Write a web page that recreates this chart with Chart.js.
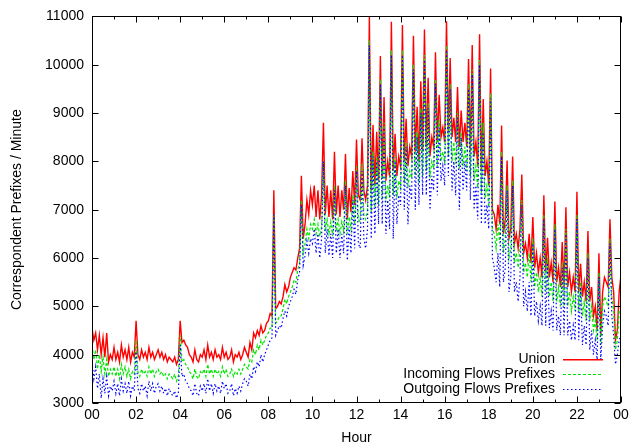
<!DOCTYPE html>
<html>
<head>
<meta charset="utf-8">
<script src="https://cdn.jsdelivr.net/npm/chart.js@4/dist/chart.umd.min.js"></script>
<style>
  html, body { margin:0; padding:0; background:#fff; }
  canvas { display:block; }
</style>
</head>
<body>
<canvas id="c" width="636" height="447"></canvas>
<script>
// one value every 5 minutes, 00:00 .. 24:00 (12 per hour + closing value)
const union = [
  4550,4300,4450,4100,4400,4000,4350,3950,4450,3850,4000,3900,
  4150,3900,4050,3850,4200,3950,4100,3900,4150,3850,4050,3950,
  4700,4000,3900,4100,3950,4050,3900,4150,3950,4050,3900,4000,
  4100,3950,4050,3900,4000,3850,3950,3900,3850,3950,3800,3900,
  4700,4250,4300,4200,4150,4000,3950,3850,4100,3900,3850,4000,
  3950,4100,3900,4200,3950,4050,3900,4100,3950,4000,3900,4150,
  3950,4050,3900,3950,4100,3850,4000,3950,4050,3900,4000,4150,
  4050,3950,4250,4100,4450,4350,4500,4400,4600,4450,4500,4650,
  4700,4850,4800,7400,4950,5000,5100,5050,5200,5450,5300,5400,
  5600,5700,5800,5750,6000,6200,7700,6400,6700,7200,6900,7400,
  7100,7500,6850,7400,6800,7300,8800,6900,7500,6850,7400,6800,
  8200,6900,7500,6850,7400,7000,8150,6800,7450,6950,7800,7100,
  8450,7300,7200,8480,7400,7200,7500,11000,7400,8760,7500,8610,
  7600,10180,7700,9330,7600,8000,7700,10890,7800,8570,7700,8100,
  7900,10820,8000,8880,7900,8300,8100,10600,8200,9130,8000,9660,
  8200,10730,8300,9730,8100,8500,8300,10260,8400,9380,8500,8700,
  8400,10900,8600,10140,8500,8900,8400,9540,8300,9050,8400,8800,
  8300,10120,8200,10410,8100,8400,7900,10630,7800,9290,7700,8000,
  7500,9920,7000,6900,6600,7100,6700,8740,6500,6800,8020,6400,
  6600,8100,6300,6500,6200,6600,7730,6100,6300,6000,6500,5900,
  6850,5800,6100,5700,6000,5600,7300,5700,6420,5600,5900,5500,
  7170,5500,5800,5400,6330,5400,7050,5400,5700,5300,5600,5300,
  7370,5300,5880,5200,5500,5100,6560,5100,5400,4800,5000,4500,
  6100,4400,5300,5600,5500,5400,6800,5600,5300,4300,4500,5300,
  5650
];
const incoming = [
  4200,3900,4100,3700,4000,3650,3950,3600,3900,3550,3700,3600,
  3750,3550,3700,3500,3800,3600,3750,3550,3700,3500,3650,3600,
  4300,3650,3550,3700,3600,3650,3550,3750,3600,3700,3550,3650,
  3700,3600,3650,3550,3600,3500,3600,3550,3500,3600,3450,3550,
  4400,3850,3900,3800,3750,3650,3600,3500,3700,3550,3500,3650,
  3600,3700,3550,3800,3600,3700,3550,3700,3600,3650,3550,3750,
  3600,3700,3550,3600,3700,3550,3650,3600,3700,3600,3700,3800,
  3750,3700,3900,3850,4100,4000,4200,4100,4300,4200,4300,4400,
  4450,4550,4550,6900,4650,4700,4800,4800,4950,5150,5050,5200,
  5300,5400,5550,5500,5750,5900,7200,6100,6300,6600,6400,6700,
  6600,6800,6500,6700,6450,6650,8000,6550,6800,6500,6750,6450,
  7500,6550,6800,6500,6750,6550,7600,6500,6850,6600,7300,6700,
  7900,6800,6750,7950,6900,6800,7000,10500,6950,8200,7050,8100,
  7100,9700,7200,8800,7150,7500,7250,10300,7300,8100,7250,7600,
  7450,10300,7550,8400,7450,7800,7650,10000,7700,8600,7550,9100,
  7700,10200,7800,9200,7650,8000,7850,9700,7900,8850,8000,8200,
  7950,10400,8100,9600,8000,8400,7950,9000,7850,8600,7900,8300,
  7800,9600,7700,9900,7600,7900,7450,10100,7350,8800,7250,7500,
  7050,9400,6600,6500,6200,6700,6300,8200,6100,6400,7500,6000,
  6200,7600,5900,6100,5800,6200,7200,5700,5900,5600,6100,5500,
  6400,5400,5700,5300,5600,5200,6900,5300,6000,5200,5500,5100,
  6700,5100,5400,5000,5900,5000,6600,5000,5300,4900,5200,4900,
  6900,4900,5500,4800,5100,4700,6100,4700,5000,4500,4700,4300,
  5700,4200,5000,5200,5100,5000,6400,5200,4900,4100,4300,4900,
  5000
];
const outgoing = [
  3850,3500,3750,3300,3600,3100,3500,3200,3550,3150,3350,3250,
  3450,3200,3400,3150,3500,3250,3400,3200,3450,3150,3350,3250,
  4100,3300,3200,3400,3250,3350,3150,3450,3250,3400,3200,3350,
  3400,3250,3350,3200,3300,3150,3300,3200,3150,3250,3100,3200,
  4200,3550,3600,3450,3400,3300,3250,3150,3400,3200,3150,3350,
  3250,3400,3200,3500,3250,3400,3200,3400,3250,3350,3200,3450,
  3300,3400,3200,3250,3400,3150,3300,3200,3350,3250,3400,3500,
  3450,3350,3600,3500,3750,3650,3850,3750,4000,3850,4000,4100,
  4200,4300,4350,6900,4400,4500,4600,4550,4750,4900,4800,5000,
  5100,5200,5350,5250,5550,5700,7100,5850,6050,6350,6100,6400,
  6300,6600,6100,6500,6000,6400,8000,6100,6600,6050,6500,6000,
  7400,6100,6600,6000,6500,6100,7500,5950,6650,6100,7200,6200,
  7800,6300,6200,7800,6400,6200,6600,10400,6400,8100,6500,8000,
  6700,9600,6700,8700,6500,7200,6600,10200,6400,8000,6700,7300,
  7100,10200,7000,8300,6700,7500,7200,9900,7000,8500,7100,9000,
  7300,10100,7300,9100,7000,7700,7400,9600,7300,8700,7600,7900,
  7500,10300,7700,9500,7400,8000,7300,8900,7000,8500,7400,8000,
  7400,9500,7200,9800,7000,7500,6800,10000,6700,8600,6700,7100,
  6600,9300,6000,5800,5500,6100,5400,8100,5500,5800,7400,5300,
  5600,7500,5300,5500,5100,5600,7100,5000,5300,4900,5500,4800,
  6300,4800,5100,4700,5000,4600,6800,4600,5900,4550,4900,4500,
  6600,4500,4800,4400,5800,4400,6500,4400,4700,4300,4600,4300,
  6800,4300,5400,4200,4600,4200,6000,4100,4500,4000,4300,3900,
  5600,3900,4600,4900,4800,4600,6300,4800,4400,3800,4000,4300,
  4400
];
const tickLabels = ['00','02','04','06','08','10','12','14','16','18','20','22','00'];
const seriesNames = ['Union', 'Incoming Flows Prefixes', 'Outgoing Flows Prefixes'];
const seriesColors = ['#ff0000', '#00e600', '#0000ff'];
const seriesDash = [[], [3, 2], [1.5, 2.5]];

const toPoints = arr => arr.map((v, i) => ({x: i * 5 / 60, y: v}));

Chart.defaults.font.family = '"Liberation Sans", Arial, sans-serif';
Chart.defaults.font.size = 14;
Chart.defaults.color = '#000';

// gnuplot-like frame, inward ticks on all four sides, and the key
const frame = {
  id: 'frame',
  afterDatasetsDraw(chart) {
    const {ctx, chartArea: a, scales: {x, y}} = chart;
    const L = Math.round(a.left) + 0.5, R = Math.round(a.right) - 0.5;
    const T = Math.round(a.top) + 0.5, B = Math.round(a.bottom) - 0.5;
    ctx.save();
    ctx.strokeStyle = '#000';
    ctx.lineWidth = 1;
    ctx.beginPath();
    for (let h = 0; h <= 24; h++) {
      const px = Math.round(x.getPixelForValue(h)) + 0.5;
      const len = h % 2 ? 3 : 6;
      ctx.moveTo(px, B); ctx.lineTo(px, B - len);
      ctx.moveTo(px, T); ctx.lineTo(px, T + len);
    }
    for (let v = 3000; v <= 11000; v += 1000) {
      const py = Math.round(y.getPixelForValue(v)) + 0.5;
      ctx.moveTo(L, py); ctx.lineTo(L + 6, py);
      ctx.moveTo(R, py); ctx.lineTo(R - 6, py);
    }
    ctx.stroke();
    ctx.strokeRect(L, T, R - L, B - T);
    ctx.restore();

    // key
    ctx.save();
    ctx.font = '14px "Liberation Sans", Arial, sans-serif';
    ctx.textAlign = 'right';
    ctx.textBaseline = 'middle';
    seriesNames.forEach((name, k) => {
      const yy = 359 + k * 15;
      ctx.fillStyle = '#000';
      ctx.fillText(name, 555, yy);
      if (k === 0) {
        ctx.fillStyle = seriesColors[0];
        ctx.fillRect(563, yy, 40, 1.5);
        return;
      }
      ctx.strokeStyle = seriesColors[k];
      ctx.lineWidth = 1.2;
      ctx.setLineDash(seriesDash[k]);
      ctx.beginPath();
      ctx.moveTo(563, yy + 0.5);
      ctx.lineTo(603, yy + 0.5);
      ctx.stroke();
      ctx.setLineDash([]);
    });
    ctx.restore();
  }
};

new Chart(document.getElementById('c'), {
  type: 'line',
  data: {
    datasets: [union, incoming, outgoing].map((arr, k) => ({
      label: seriesNames[k],
      data: toPoints(arr),
      borderColor: seriesColors[k],
      borderWidth: k === 0 ? 1.4 : 1.2,
      borderDash: seriesDash[k],
      order: 3 - k
    }))
  },
  options: {
    responsive: false,
    animation: false,
    events: [],
    elements: {point: {radius: 0}, line: {tension: 0}},
    layout: {padding: {top: 14, right: 15, left: 0, bottom: 0}},
    plugins: {legend: {display: false}, tooltip: {enabled: false}},
    scales: {
      x: {
        type: 'linear', min: 0, max: 24,
        grid: {display: false, drawTicks: false},
        border: {display: false},
        afterFit: s => { s.height = 44; },
        afterBuildTicks: s => { s.ticks = tickLabels.map((t, i) => ({value: i * 2})); },
        ticks: {padding: 4, maxRotation: 0, autoSkip: false, callback: v => tickLabels[v / 2]},
        title: {display: true, text: 'Hour', padding: {top: 2, bottom: 0}}
      },
      y: {
        min: 3000, max: 11000,
        grid: {display: false, drawTicks: false},
        border: {display: false},
        afterFit: s => { s.width = 92; },
        ticks: {stepSize: 1000, padding: 8, callback: v => String(v)},
        title: {display: true, text: 'Correspondent Prefixes / Minute', padding: {top: 9, bottom: 4}}
      }
    }
  },
  plugins: [frame]
});
</script>
</body>
</html>
